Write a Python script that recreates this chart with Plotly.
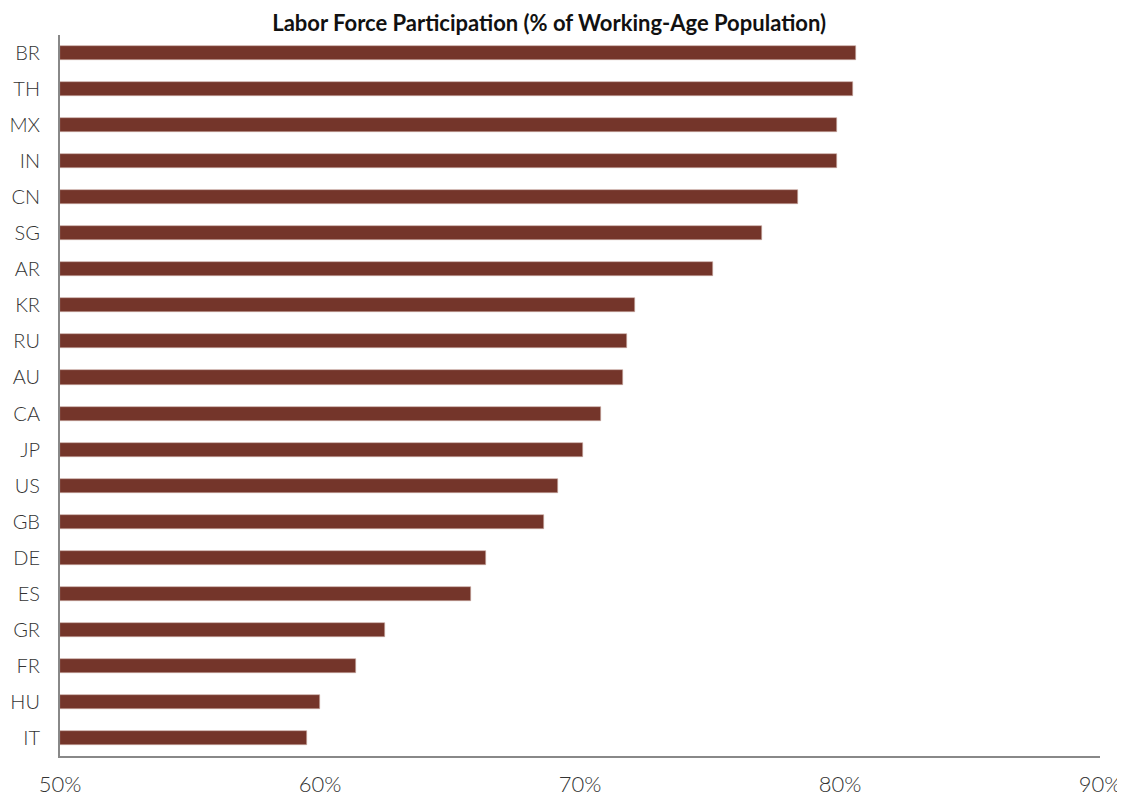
import plotly.graph_objects as go

countries = ["BR", "TH", "MX", "IN", "CN", "SG", "AR", "KR", "RU", "AU",
             "CA", "JP", "US", "GB", "DE", "ES", "GR", "FR", "HU", "IT"]
participation = [80.6, 80.5, 79.9, 79.9, 78.4, 77.0, 75.1, 72.1, 71.8, 71.65,
                 70.8, 70.1, 69.15, 68.6, 66.4, 65.8, 62.5, 61.4, 60.0, 59.5]
x_ticks = [50, 60, 70, 80, 90]
x_tick_labels = ["50%", "60%", "70%", "80%", "90%"]

fig = go.Figure(go.Bar(
    x=[v - 50 for v in participation],
    base=50,
    y=countries,
    orientation="h",
    width=0.39,
    marker=dict(color="#74352a", line=dict(color="#c9a9a3", width=0.6)),
))

fig.update_layout(
    width=1125, height=801,
    paper_bgcolor="white", plot_bgcolor="white",
    margin=dict(l=52, r=33, t=27, b=53),
    title=dict(text="<b>Labor Force Participation (% of Working-Age Population)</b>",
               x=0.481, xanchor="center", y=0.991, yanchor="top",
               font=dict(family="Lato", size=22, color="#111")),
    showlegend=False,
    bargap=0,
    xaxis=dict(range=[50, 90], tickvals=x_ticks, ticktext=x_tick_labels,
               showgrid=False, zeroline=False, showline=True,
               linecolor="#888", linewidth=2, ticks="", automargin=False,
               tickfont=dict(family="Lato", size=22, color="#333", weight=300),
               ticklabelstandoff=8),
    yaxis=dict(categoryorder="array", categoryarray=countries[::-1],
               showgrid=False, zeroline=False, showline=True,
               linecolor="#888", linewidth=2, ticks="", automargin=False,
               tickfont=dict(family="Lato", size=20, color="#333", weight=300),
               ticklabelstandoff=14),
)

fig.write_html("out.html")
